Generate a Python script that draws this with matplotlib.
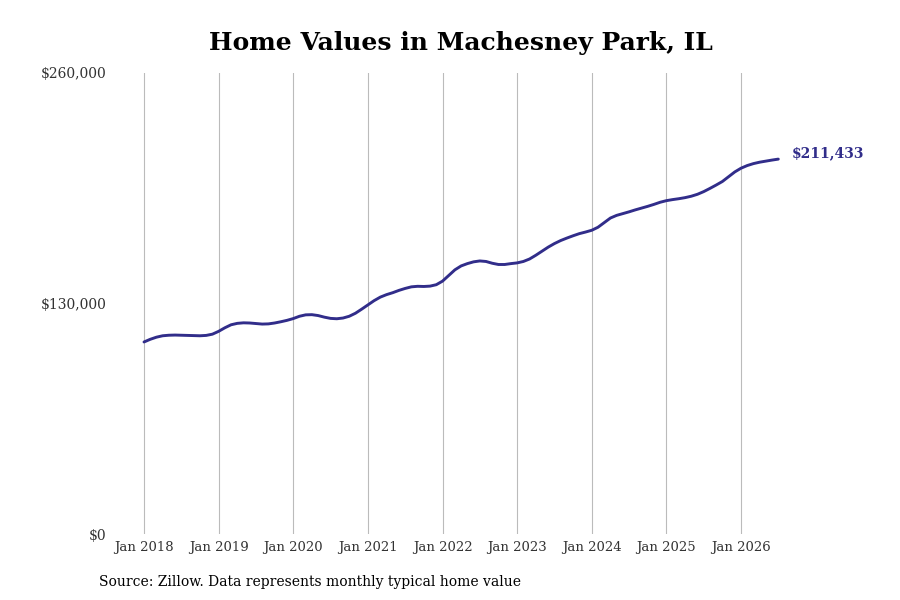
import matplotlib.pyplot as plt
import numpy as np

# Monthly typical home value, Jan 2018 .. Jul 2026
values_2018 = [108300, 109800, 111000, 111800, 112100, 112200, 112100, 112000, 111900, 111800, 112000, 112700]
values_2019 = [114300, 116300, 118000, 118800, 119100, 119000, 118700, 118400, 118500, 119000, 119700, 120500]
values_2020 = [121500, 122800, 123600, 123700, 123200, 122300, 121600, 121400, 121800, 122800, 124500, 126800]
values_2021 = [129200, 131600, 133600, 135000, 136100, 137400, 138500, 139400, 139700, 139600, 139800, 140600]
values_2022 = [142600, 145800, 149000, 151200, 152500, 153500, 154000, 153700, 152700, 152000, 152000, 152500]
values_2023 = [152900, 153700, 155100, 157200, 159500, 161800, 163800, 165500, 166900, 168200, 169400, 170300]
values_2024 = [171300, 173000, 175600, 178200, 179700, 180700, 181700, 182800, 183800, 184800, 185900, 187100]
values_2025 = [188000, 188600, 189100, 189700, 190500, 191600, 193100, 194900, 196800, 198800, 201500, 204200]
values_2026 = [206300, 207800, 208900, 209700, 210300, 210900, 211433]

values = (values_2018 + values_2019 + values_2020 + values_2021 + values_2022
          + values_2023 + values_2024 + values_2025 + values_2026)
start_year = 2018
tick_years = list(range(2018, 2027))
tick_labels = [f"Jan {y}" for y in tick_years]
y_ticks = [0, 130000, 260000]
y_labels = ["$0", "$130,000", "$260,000"]
end_label = "$211,433"

line_color = '#312d8a'
plt.rcParams['font.family'] = 'DejaVu Serif'

x = start_year + np.arange(len(values)) / 12.0

fig = plt.figure(figsize=(9, 6), dpi=100, facecolor='white')
ax = fig.add_axes([112 / 900, 1 - 534 / 600, (810 - 112) / 900, (534 - 73) / 600])

px_per_year = (741 - 144) / 8.0
ax.set_xlim(2018 - (144 - 112) / px_per_year, 2018 + (810 - 144) / px_per_year)
ax.set_ylim(0, 260000)

ax.plot(x, values, color=line_color, linewidth=2.1, solid_capstyle='round')
ax.annotate(end_label, xy=(x[-1], values[-1]), xytext=(10, 4), textcoords='offset points',
            color=line_color, fontsize=10, fontweight='bold', va='center', ha='left')

ax.set_xticks(tick_years)
ax.set_xticklabels(tick_labels, fontsize=9.5, color='#333333')
ax.set_yticks(y_ticks)
ax.set_yticklabels(y_labels, fontsize=10, color='#333333')
ax.tick_params(axis='x', length=0, pad=5)
ax.tick_params(axis='y', length=0, pad=4)
ax.grid(axis='x', color='#bbbbbb', linewidth=0.8)
ax.set_axisbelow(True)
for s in ax.spines.values():
    s.set_visible(False)

fig.text(0.512, 1 - 43 / 600, "Home Values in Machesney Park, IL", ha='center', va='center',
         fontsize=18, fontweight='bold', color='black')
fig.text(99 / 900, 1 - 582 / 600, "Source: Zillow. Data represents monthly typical home value",
         ha='left', va='center', fontsize=10, color='black')

fig.savefig('out.png', dpi=100, facecolor='white')
